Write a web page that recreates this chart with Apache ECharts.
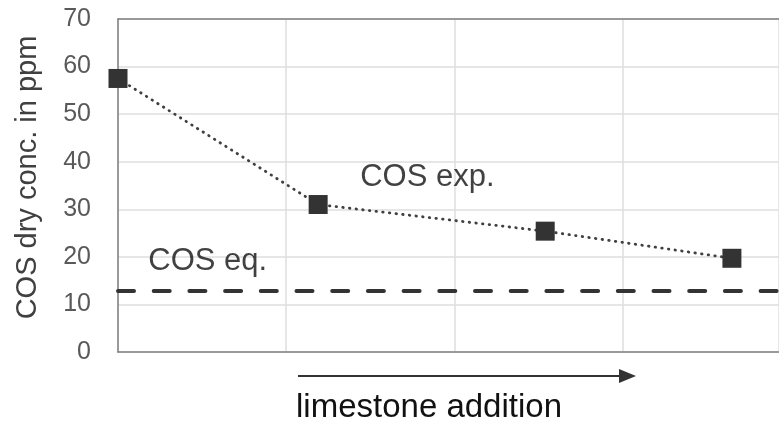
<!DOCTYPE html>
<html>
<head>
<meta charset="utf-8">
<script src="https://cdn.jsdelivr.net/npm/echarts@6/dist/echarts.min.js"></script>
<style>
html,body{margin:0;padding:0;background:#fff;}
#chart{width:779px;height:421px;}
</style>
</head>
<body>
<div id="chart"></div>
<script>
// Data
const xPositions = [0, 1.19, 2.54, 3.65];      // relative "limestone addition" positions
const cosExp = [57.5, 31.0, 25.4, 19.7];       // COS dry conc. (ppm), experiment
const cosEq = 12.8;                             // COS equilibrium (ppm)
const yMin = 0, yMax = 70, yStep = 10;
const xMin = 0, xMax = 3.93, xStep = 1;         // plot is cut at the right edge of the picture
const annotations = [
  {text: 'COS exp.', x: 1.44, y: 36.6},
  {text: 'COS eq.', x: 0.18, y: 19.1}
];
const yTitle = 'COS dry conc. in ppm';
const xTitle = 'limestone addition';

const FONT = '"Liberation Sans", Arial, sans-serif';
const chart = echarts.init(document.getElementById('chart'), null, {renderer: 'canvas'});

const borderLine = {show: true, lineStyle: {color: '#808080', width: 1.5}};

chart.setOption({
  animation: false,
  backgroundColor: '#ffffff',
  grid: {left: 118, top: 19, bottom: 69, right: 0, show: false},
  xAxis: [
    {
      type: 'value', min: xMin, max: xMax, interval: xStep,
      axisLine: borderLine,
      axisTick: {show: false},
      axisLabel: {show: false},
      splitLine: {show: true, lineStyle: {color: '#dedede', width: 1.5}}
    },
    {
      type: 'value', position: 'top', min: xMin, max: xMax, interval: xStep,
      axisLine: borderLine,
      axisTick: {show: false},
      axisLabel: {show: false},
      splitLine: {show: false}
    }
  ],
  yAxis: {
    type: 'value', min: yMin, max: yMax, interval: yStep,
    name: yTitle, nameLocation: 'middle', nameRotate: 90, nameGap: 76,
    nameTextStyle: {fontFamily: FONT, fontSize: 29, color: '#404040', padding: [0, 0, 0, 16]},
    axisLine: borderLine,
    axisTick: {show: false},
    axisLabel: {fontFamily: FONT, fontSize: 25, color: '#595959', margin: 27},
    splitLine: {show: true, lineStyle: {color: '#dedede', width: 1.5}}
  },
  series: [
    {
      name: 'COS exp.',
      type: 'line',
      data: xPositions.map((x, i) => [x, cosExp[i]]),
      symbol: 'rect', symbolSize: 19,
      itemStyle: {color: '#333333'},
      lineStyle: {color: '#404040', width: 2.8, type: [0.5, 6.2], cap: 'round'},
      clip: false,
      z: 5,
      markLine: {
        silent: true, symbol: 'none',
        label: {show: false},
        lineStyle: {color: '#333333', width: 4, type: [16, 19.7], cap: 'round'},
        data: [{yAxis: cosEq}]
      }
    },
    {
      name: 'labels',
      type: 'scatter',
      symbolSize: 0,
      data: annotations.map(a => ({value: [a.x, a.y], name: a.text})),
      label: {
        show: true, position: 'right', distance: 0,
        formatter: p => p.name,
        fontFamily: FONT, fontSize: 31, color: '#111111'
      },
      silent: true
    }
  ],
  graphic: [
    {
      type: 'line',
      shape: {x1: 298, y1: 376, x2: 622, y2: 376},
      style: {stroke: '#333333', lineWidth: 2}
    },
    {
      type: 'polygon',
      shape: {points: [[619, 369], [636, 376], [619, 383]]},
      style: {fill: '#333333'}
    },
    {
      type: 'text',
      x: 429, y: 408,
      style: {text: xTitle, font: '33px ' + FONT, fill: '#111111', align: 'center', verticalAlign: 'middle'}
    }
  ]
});
</script>
</body>
</html>
